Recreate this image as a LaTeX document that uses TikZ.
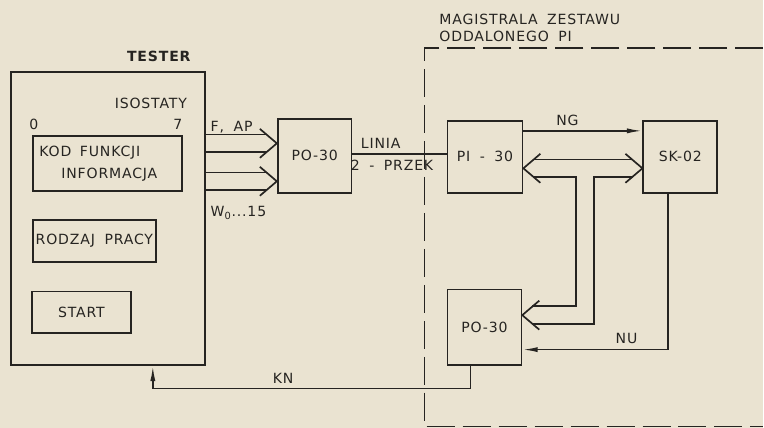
\documentclass[tikz,border=0pt]{standalone}
\usepackage{fontspec}
\setmainfont{DejaVu Sans}[LetterSpace=6, WordSpace=1.8]
\usetikzlibrary{arrows.meta, calc}

\definecolor{paper}{RGB}{234,227,209}
\definecolor{ink}{RGB}{38,36,33}

\begin{document}
\begin{tikzpicture}[
  x=0.025cm, y=-0.025cm,
  every node/.style={text=ink, font=\fontsize{10}{12}\selectfont},
  blok/.style={rectangle, draw=ink, line width=1.2pt, inner sep=0pt, align=center},
  sig/.style={draw=ink, line width=1.2pt},
  sigarr/.style={sig, -{Latex[length=11pt,width=3.6pt]}},
  bus/.style={draw=ink, line width=1.2pt, double=paper, double distance=0.4cm},
  magistrala/.style={draw=ink, line width=1.2pt, dash pattern=on 0.7cm off 0.2cm},
  grot/.pic={\draw[sig, line join=miter] (-17,-14.5) -- (0,0) -- (-17,14.5);}
]
  \fill[paper] (0,0) rectangle (764,428);

  % tester
  \node[blok, minimum width=4.85cm, minimum height=7.33cm] (tester) at (108,218.5) {};
  \node[blok, minimum width=3.73cm, minimum height=1.38cm, text width=3.4cm, align=left] (kod) at (107.5,163.5)
    {KOD\hspace{0.6em}FUNKCJI\\[3.5pt]\hspace*{0.55cm}INFORMACJA};
  \node[blok, minimum width=3.08cm, minimum height=1.05cm] (rodzaj) at (94.5,241) {RODZAJ PRACY};
  \node[blok, minimum width=2.48cm, minimum height=1.03cm] (start) at (81.5,312.5) {START};
  \node[font=\fontsize{10}{12}\bfseries] (tytul) at (159,56) {TESTER};
  \node (isostaty) at (151,103) {ISOSTATY};
  \node (bit0) at (34,125) {0};
  \node (bit7) at (178,125) {7};

  % bloki
  \node[blok, minimum width=1.85cm, minimum height=1.85cm] (po) at (315,156) {PO-30};
  \node[blok, minimum width=1.88cm, minimum height=1.8cm] (pi) at (485.5,157) {PI - 30};
  \node[blok, minimum width=1.85cm, minimum height=1.8cm] (sk) at (681,157) {SK-02};
  \node[blok, minimum width=1.85cm, minimum height=1.88cm] (pozd) at (485,327.5) {PO-30};

  \node[anchor=west] (fap) at (206,127) {F, AP};
  \node[anchor=west] (wbity) at (206,213) {W\textsubscript{0}...15};
  \node[anchor=west] (mag1) at (435,19) {MAGISTRALA ZESTAWU};
  \node[anchor=west] (mag2) at (435,36) {ODDALONEGO PI};

  \draw[magistrala] (764,48) -- (425,48) -- (425,427) -- (764,427);

  % polaczenia
  \draw[bus, shorten >=0.24cm] (tester.east |- 0,143.5) -- (po.west |- 0,143.5);
  \pic at (po.west |- 0,143.5) {grot};
  \draw[bus, shorten >=0.24cm] (tester.east |- 0,181.5) -- (po.west |- 0,181.5);
  \pic at (po.west |- 0,181.5) {grot};

  \draw[sig] (po.east |- 0,154.5) -- (pi.west |- 0,154.5)
    node[pos=0.3, above] {LINIA} node[pos=0.42, below] {2 - PRZEK};
  \draw[sigarr] (pi.east |- 0,131) -- (sk.west |- 0,131) node[pos=0.37, above] {NG};

  \coordinate (tee) at (585.5,168.5);
  \draw[bus, shorten >=0.24cm] (tee) |- (pozd.east |- 0,315.5);
  \pic[rotate=180] at (pozd.east |- 0,315.5) {grot};
  \draw[bus, shorten <=0.24cm, shorten >=0.24cm] (pi.east |- tee) -- (sk.west |- tee);
  \pic[rotate=180] at (pi.east |- tee) {grot};
  \pic at (sk.west |- tee) {grot};
  \fill[paper] ($(tee)+(-8,0)$) rectangle ($(tee)+(8,10.3)$);

  \draw[sigarr] (669,0 |- sk.south) |- (pozd.east |- 0,350) node[pos=0.643, above] {NU};
  \draw[sigarr] (471,0 |- pozd.south) |- (153,389) node[pos=0.795, above] {KN} -- (153,0 |- tester.south);
\end{tikzpicture}
\end{document}
